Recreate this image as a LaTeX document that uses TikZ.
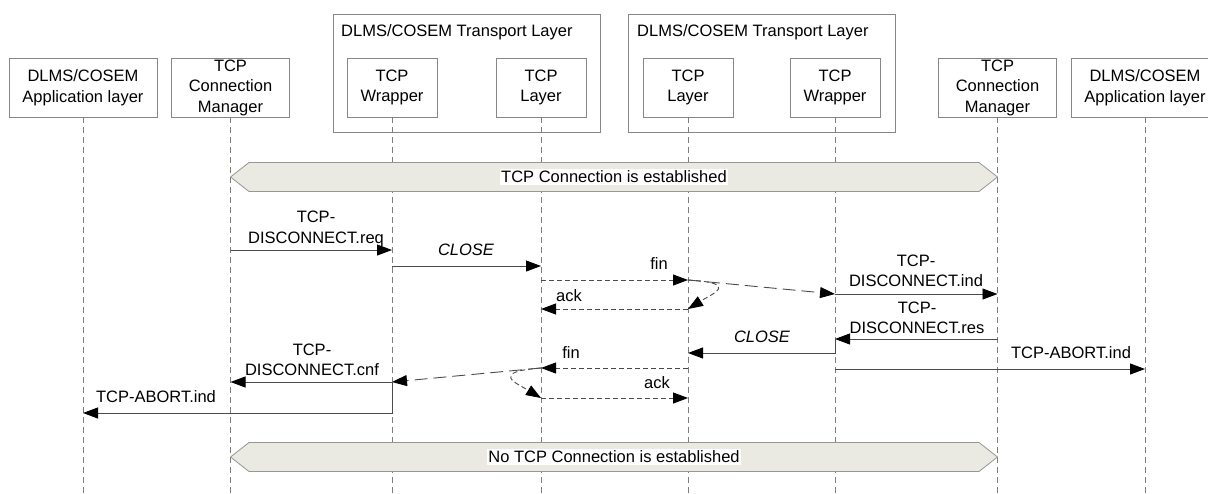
\documentclass[tikz,border=0pt]{standalone}
\usepackage{fontspec}
\setmainfont{Liberation Sans}
\usetikzlibrary{arrows.meta}

\definecolor{boxgray}{RGB}{135,135,135}
\definecolor{lifegray}{RGB}{125,125,125}
\definecolor{msggray}{RGB}{75,75,75}
\definecolor{bannerfill}{RGB}{234,234,226}
\definecolor{bannerline}{RGB}{150,150,150}

\tikzset{
  txt/.style={font=\fontsize{16.5}{20.5}\selectfont},
  obj/.style={txt, draw=boxgray, line width=0.8pt, minimum height=59pt, inner sep=0pt, align=center},
  group/.style={draw=boxgray, line width=0.8pt, minimum width=267pt, minimum height=118pt, inner sep=0pt},
  grouptitle/.style={txt, anchor=west, inner sep=0pt},
  life/.style={draw=lifegray, line width=0.8pt, dash pattern=on 6pt off 4pt},
  tip/.style={-{Triangle[length=15pt,width=11pt,color=black]}},
  msg/.style={tip, draw=msggray, line width=0.9pt},
  shortdash/.style={msg, dash pattern=on 5pt off 3pt},
  longdash/.style={msg, dash pattern=on 13pt off 6pt},
  lbl/.style={txt, inner sep=0pt, align=center},
  banner/.style={fill=bannerfill, draw=bannerline, line width=0.8pt},
  bannertext/.style={txt, fill=white, inner sep=1.5pt}
}

\begin{document}
\begin{tikzpicture}[x=1pt,y=-1pt]
\useasboundingbox (0,0) rectangle (1208,493);

% participants
\node[obj, minimum width=148pt] (appL) at (83,87.5) {DLMS/COSEM\\Application layer};
\node[obj, minimum width=118pt] (cmL) at (230.5,87.5) {TCP\\Connection\\Manager};

\node[group] (trL) at (466.5,73) {};
\node[grouptitle] (trLt) at (341,32) {DLMS/COSEM Transport Layer};
\node[obj, minimum width=90pt] (wrL) at (392,87.5) {TCP\\Wrapper};
\node[obj, minimum width=90pt] (lyL) at (541,87.5) {TCP\\Layer};

\node[group] (trR) at (761.5,73) {};
\node[grouptitle] (trRt) at (637,32) {DLMS/COSEM Transport Layer};
\node[obj, minimum width=90pt] (lyR) at (688,87.5) {TCP\\Layer};
\node[obj, minimum width=90pt] (wrR) at (835,87.5) {TCP\\Wrapper};

\node[obj, minimum width=118pt] (cmR) at (997.5,87.5) {TCP\\Connection\\Manager};
\node[obj, minimum width=148pt] (appR) at (1145,87.5) {DLMS/COSEM\\Application layer};

% lifelines
\foreach \n in {appL,cmL,wrL,lyL,lyR,wrR,cmR,appR}
  \draw[life] (\n.south) -- (\n.south |- 0,493);

% state banners
\path[banner] (230.5,177) -- (249,162.5) -- (979,162.5) -- (997.5,177) -- (979,191.5) -- (249,191.5) -- cycle;
\node[bannertext] (est) at (614,177) {TCP Connection is established};

\path[banner] (230.5,457) -- (249,442.5) -- (979,442.5) -- (997.5,457) -- (979,471.5) -- (249,471.5) -- cycle;
\node[bannertext] (noest) at (614,457) {No TCP Connection is established};

% disconnect request side
\draw[msg] (cmL |- 0,250) -- (wrL |- 0,250);
\node[lbl] (lreq) at (316,229) {TCP-\\DISCONNECT.req};

\draw[msg] (wrL |- 0,266) -- (lyL |- 0,266);
\node[lbl, font=\fontsize{16.5}{20.5}\selectfont\itshape] (lclose1) at (466,250) {CLOSE};

\draw[shortdash] (lyL |- 0,280) -- (lyR |- 0,280);
\node[lbl] (lfin1) at (659,264) {fin};

\draw[longdash] (lyR |- 0,280) -- (wrR |- 0,294);
\draw[shortdash] (lyR |- 0,280) .. controls (741,283) and (712,294) .. (lyR |- 0,309);
\draw[shortdash] (lyR |- 0,309) -- (lyL |- 0,309);
\node[lbl] (lack1) at (569,296) {ack};

\draw[msg] (wrR |- 0,294) -- (cmR |- 0,294);
\node[lbl] (lind) at (916,271) {TCP-\\DISCONNECT.ind};

\draw[msg] (cmR |- 0,339) -- (wrR |- 0,339);
\node[lbl] (lres) at (917,318) {TCP-\\DISCONNECT.res};

\draw[msg] (wrR |- 0,339) |- (lyR |- 0,353);
\node[lbl, font=\fontsize{16.5}{20.5}\selectfont\itshape] (lclose2) at (762,337) {CLOSE};

\draw[msg] (wrR |- 0,369) -- (appR |- 0,369);
\node[lbl] (labortR) at (1071,353) {TCP-ABORT.ind};

% closing handshake back to the initiator
\draw[shortdash] (lyR |- 0,368) -- (lyL |- 0,368);
\node[lbl] (lfin2) at (571,353) {fin};

\draw[longdash] (lyL |- 0,368) -- (wrL |- 0,382);
\draw[shortdash] (lyL |- 0,368) .. controls (488,372) and (518,384) .. (lyL |- 0,398);
\draw[shortdash] (lyL |- 0,398) -- (lyR |- 0,398);
\node[lbl] (lack2) at (657,383) {ack};

\draw[msg] (wrL |- 0,382) -- (cmL |- 0,382);
\node[lbl] (lcnf) at (312,360) {TCP-\\DISCONNECT.cnf};

\draw[msg] (wrL |- 0,382) |- (appL |- 0,413);
\node[lbl] (labortL) at (156,397) {TCP-ABORT.ind};
\end{tikzpicture}
\end{document}
